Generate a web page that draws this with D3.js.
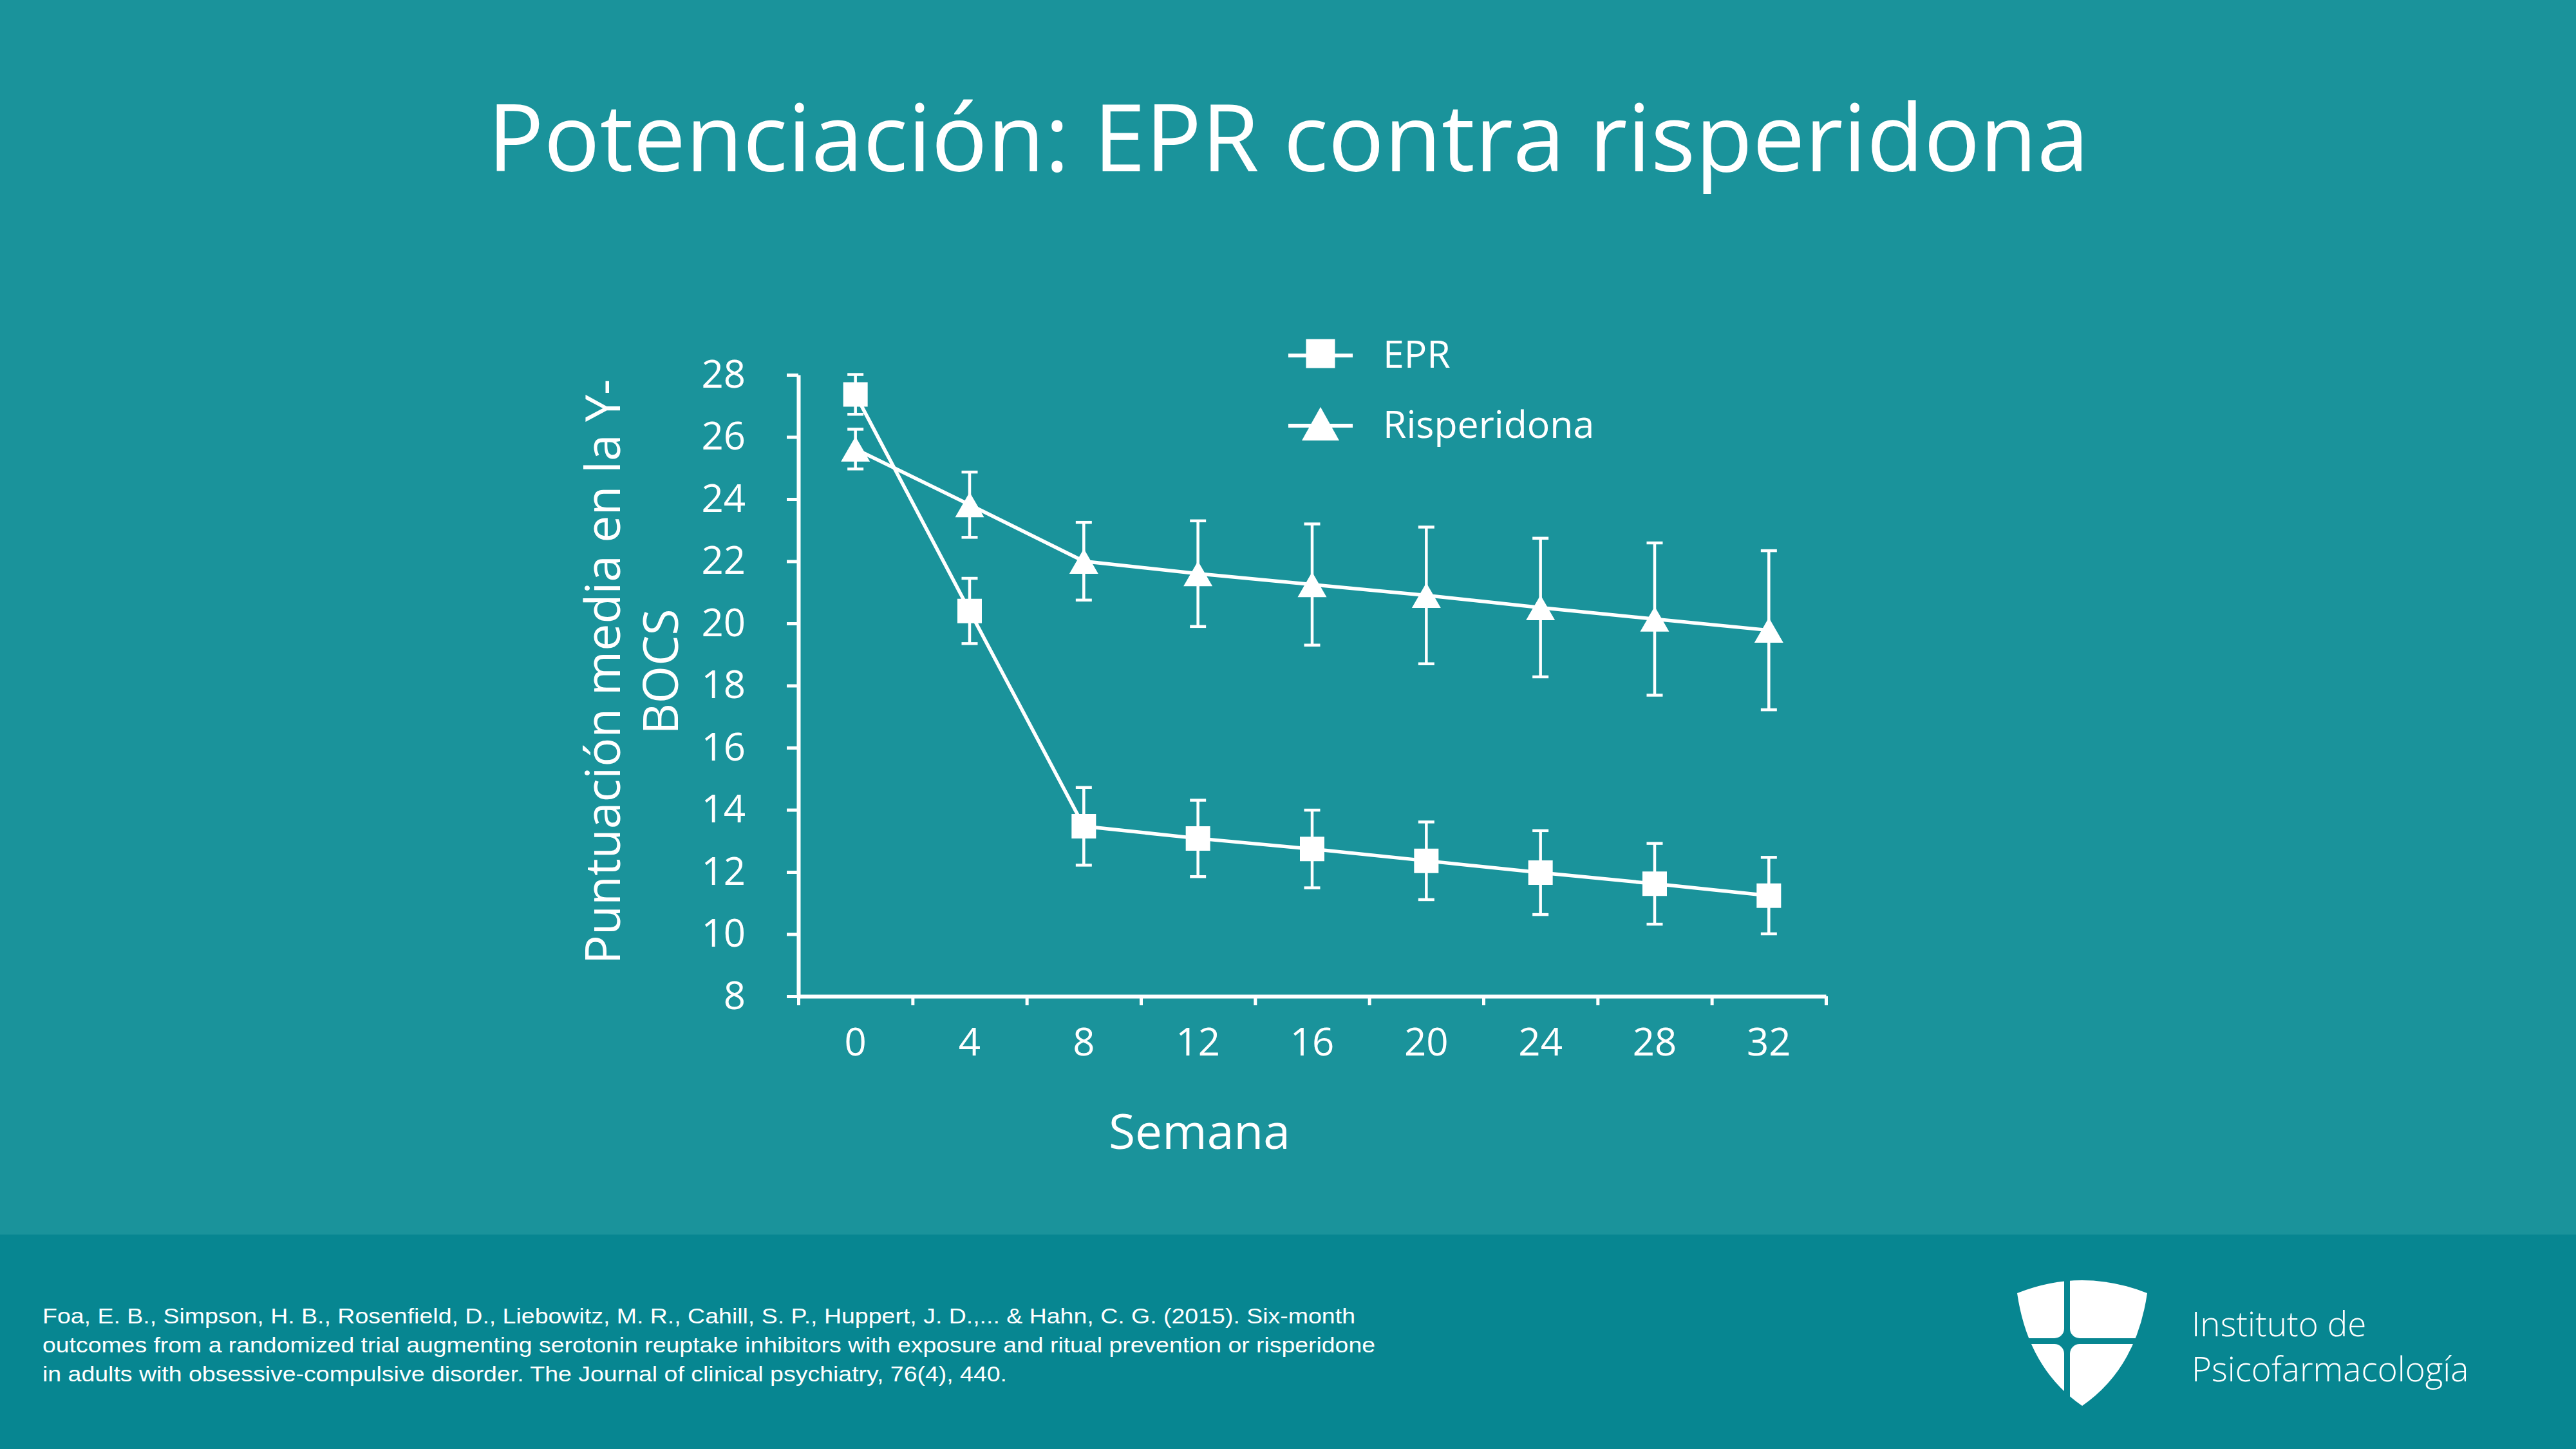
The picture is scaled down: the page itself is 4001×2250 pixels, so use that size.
<!DOCTYPE html>
<html>
<head>
<meta charset="utf-8">
<script src="https://cdn.jsdelivr.net/npm/d3@7"></script>
<style>
  body { margin: 0; background: #1a939b; }
  svg { display: block; }
  text { fill: #fff; font-family: 'Open Sans', sans-serif; }
</style>
</head>
<body>
<div id="chart"></div>
<script>
// values
const weeks = ['0', '4', '8', '12', '16', '20', '24', '28', '32'];
const eprMean = [27.37, 20.4, 13.47, 13.08, 12.74, 12.36, 11.98, 11.62, 11.24];
const eprErr = [0.64, 1.05, 1.25, 1.23, 1.25, 1.25, 1.35, 1.3, 1.23];
const rispMean = [25.61, 23.82, 22.0, 21.6, 21.25, 20.9, 20.51, 20.14, 19.78];
const rispErr = [0.64, 1.05, 1.25, 1.7, 1.95, 2.2, 2.23, 2.45, 2.56];
const yTicks = [8, 10, 12, 14, 16, 18, 20, 22, 24, 26, 28];
const seriesNames = ['EPR', 'Risperidona'];
const citation = [
  'Foa, E. B., Simpson, H. B., Rosenfield, D., Liebowitz, M. R., Cahill, S. P., Huppert, J. D.,... & Hahn, C. G. (2015). Six-month',
  'outcomes from a randomized trial augmenting serotonin reuptake inhibitors with exposure and ritual prevention or risperidone',
  'in adults with obsessive-compulsive disorder. The Journal of clinical psychiatry, 76(4), 440.'
];
const citationWidths = [2039, 2070, 1498];

const W = 4001, H = 2250;
const bg = '#1a939b', footerBg = '#078691';
const X0 = 1240, X1 = 2836, Y0 = 1547, Y1 = 582;

const svg = d3.select('#chart').append('svg')
  .attr('width', W).attr('height', H)
  .attr('viewBox', `0 0 ${W} ${H}`);

svg.append('rect').attr('width', W).attr('height', H).attr('fill', bg);
svg.append('rect').attr('y', 1917).attr('width', W).attr('height', H - 1917).attr('fill', footerBg);

// title
svg.append('text')
  .attr('x', 2001).attr('y', 266)
  .attr('text-anchor', 'middle')
  .style('font-size', '145px')
  .text('Potenciación: EPR contra risperidona');

const x = d3.scaleBand().domain(weeks).range([X0, X1]);
const y = d3.scaleLinear().domain([8, 28]).range([Y0, Y1]);
const xEdge = d3.scaleLinear().domain([0, weeks.length]).range([X0, X1]);

// y axis
const gy = svg.append('g')
  .attr('transform', `translate(${X0},0)`)
  .call(d3.axisLeft(y).tickValues(yTicks).tickSize(18).tickPadding(64).tickSizeOuter(0));

// x axis: tick marks on band edges, labels in band centres
const gxTicks = svg.append('g')
  .attr('transform', `translate(0,${Y0})`)
  .call(d3.axisBottom(xEdge).tickValues(d3.range(weeks.length + 1)).tickFormat('').tickSize(14).tickSizeOuter(0));
const gxLabels = svg.append('g')
  .attr('transform', `translate(0,${Y0})`)
  .call(d3.axisBottom(x).tickSize(0).tickPadding(49));
gxLabels.select('.domain').remove();

[gy, gxTicks, gxLabels].forEach(g => {
  g.selectAll('.domain').attr('stroke', '#fff').attr('stroke-width', 6);
  g.selectAll('.tick line').attr('stroke', '#fff').attr('stroke-width', 5);
  g.selectAll('.tick text')
    .style('fill', '#fff')
    .style('font-family', "'Open Sans', sans-serif")
    .style('font-size', '60px');
});

// axis titles
svg.append('text')
  .attr('x', 1863).attr('y', 1784)
  .attr('text-anchor', 'middle')
  .style('font-size', '75px')
  .text('Semana');

const yTitle = svg.append('text')
  .attr('transform', 'translate(963,1043) rotate(-90)')
  .attr('text-anchor', 'middle')
  .style('font-size', '75px');
yTitle.append('tspan').attr('x', 0).attr('y', 0).text('Puntuación media en la Y-');
yTitle.append('tspan').attr('x', 0).attr('y', 90).text('BOCS');

// markers
function squarePath(s) {
  return `M${-s / 2},${-s / 2}h${s}v${s}h${-s}Z`;
}
function trianglePath(w, h) {
  return `M0,${-h / 2}L${w / 2},${h / 2}L${-w / 2},${h / 2}Z`;
}

const series = [
  { name: seriesNames[0], mean: eprMean, err: eprErr, shape: squarePath(38), legendShape: squarePath(45) },
  { name: seriesNames[1], mean: rispMean, err: rispErr, shape: trianglePath(45, 39), legendShape: trianglePath(58, 52) }
];

const cx = w => x(w) + x.bandwidth() / 2;
const line = d3.line().x(d => cx(d.w)).y(d => y(d.v));

series.forEach(s => {
  const pts = weeks.map((w, i) => ({ w: w, v: s.mean[i], e: s.err[i] }));
  const g = svg.append('g');

  // error bars
  const eb = g.selectAll('.eb').data(pts).enter().append('g').attr('class', 'eb');
  eb.append('line')
    .attr('x1', d => cx(d.w)).attr('x2', d => cx(d.w))
    .attr('y1', d => y(d.v + d.e)).attr('y2', d => y(d.v - d.e))
    .attr('stroke', '#fff').attr('stroke-width', 4.5);
  [1, -1].forEach(sign => {
    eb.append('line')
      .attr('x1', d => cx(d.w) - 12.5).attr('x2', d => cx(d.w) + 12.5)
      .attr('y1', d => y(d.v + sign * d.e)).attr('y2', d => y(d.v + sign * d.e))
      .attr('stroke', '#fff').attr('stroke-width', 4.5);
  });

  g.append('path').datum(pts)
    .attr('d', line)
    .attr('fill', 'none')
    .attr('stroke', '#fff')
    .attr('stroke-width', 5.5);

  g.selectAll('.mk').data(pts).enter().append('path')
    .attr('class', 'mk')
    .attr('transform', d => `translate(${cx(d.w)},${y(d.v)})`)
    .attr('d', s.shape)
    .attr('fill', '#fff');
});

// legend
const legendY = [552, 661];
series.forEach((s, i) => {
  const lg = svg.append('g').attr('transform', `translate(0,${legendY[i]})`);
  lg.append('line').attr('x1', 2001).attr('x2', 2101).attr('stroke', '#fff').attr('stroke-width', 6);
  lg.append('path').attr('transform', 'translate(2051,-3)').attr('d', s.legendShape).attr('fill', '#fff');
  lg.append('text').attr('x', 2148).attr('y', 19).style('font-size', '59px').text(s.name);
});

// citation
svg.append('g').selectAll('text').data(citation).enter().append('text')
  .attr('x', 66)
  .attr('y', (d, i) => 2055 + i * 45)
  .attr('textLength', (d, i) => citationWidths[i])
  .attr('lengthAdjust', 'spacingAndGlyphs')
  .style('font-family', "'Liberation Sans', Arial, sans-serif")
  .style('font-size', '33px')
  .text(d => d);

// logo: shield with a cross cut out
const logo = svg.append('g');
logo.append('path')
  .attr('d', 'M3133,2008 Q3234,1968 3335,2008 Q3318,2125 3234,2183 Q3150,2125 3133,2008Z')
  .attr('fill', '#fff');
const gx0 = 3206, gx1 = 3215, gy0 = 2078, gy1 = 2087, r = 15;
logo.append('rect').attr('x', gx0).attr('y', 1975).attr('width', gx1 - gx0).attr('height', 215).attr('fill', footerBg);
logo.append('rect').attr('x', 3120).attr('y', gy0).attr('width', 230).attr('height', gy1 - gy0).attr('fill', footerBg);
const fillets = [
  `M${gx0},${gy0 - r}L${gx0},${gy0}L${gx0 - r},${gy0}A${r},${r} 0 0 0 ${gx0},${gy0 - r}Z`,
  `M${gx1},${gy0 - r}L${gx1},${gy0}L${gx1 + r},${gy0}A${r},${r} 0 0 1 ${gx1},${gy0 - r}Z`,
  `M${gx0},${gy1 + r}L${gx0},${gy1}L${gx0 - r},${gy1}A${r},${r} 0 0 1 ${gx0},${gy1 + r}Z`,
  `M${gx1},${gy1 + r}L${gx1},${gy1}L${gx1 + r},${gy1}A${r},${r} 0 0 0 ${gx1},${gy1 + r}Z`
];
logo.selectAll('.fillet').data(fillets).enter().append('path')
  .attr('class', 'fillet').attr('d', d => d).attr('fill', footerBg);

const logoText = ['Instituto de', 'Psicofarmacología'];
logo.selectAll('.lt').data(logoText).enter().append('text')
  .attr('class', 'lt')
  .attr('x', 3404)
  .attr('y', (d, i) => 2075 + i * 70)
  .style('font-size', '53px')
  .style('font-weight', 300)
  .text(d => d);
</script>
</body>
</html>
